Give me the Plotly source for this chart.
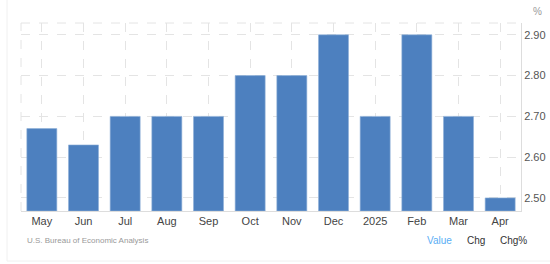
import plotly.graph_objects as go

categories = ["May", "Jun", "Jul", "Aug", "Sep", "Oct", "Nov", "Dec", "2025", "Feb", "Mar", "Apr"]
values = [2.67, 2.63, 2.70, 2.70, 2.70, 2.80, 2.80, 2.90, 2.70, 2.90, 2.70, 2.50]
y_ticks = [2.50, 2.60, 2.70, 2.80, 2.90]
y_tick_labels = ["2.50", "2.60", "2.70", "2.80", "2.90"]

W, H = 550, 264
L, R, T, B = 21, 29, 23, 53
ymin, ymax = 2.468, 2.929

fig = go.Figure()
fig.add_trace(go.Bar(
    x=categories, y=[v - ymin for v in values], base=ymin,
    marker=dict(color="#4d80bf", line=dict(color="#8fb0d9", width=0.6)),
    hoverinfo="skip",
))

font = "Liberation Sans, Arial, sans-serif"
fig.update_layout(
    width=W, height=H,
    margin=dict(l=L, r=R, t=T, b=B, autoexpand=False),
    paper_bgcolor="white", plot_bgcolor="white",
    bargap=0.28, showlegend=False,
    font=dict(family=font, size=11, color="#444"),
    xaxis=dict(
        type="category", showgrid=True, gridcolor="#e4e4e4", griddash="dash", gridwidth=1,
        showline=True, linecolor="#dddddd", linewidth=1, ticks="", automargin=False,
        tickfont=dict(size=11, color="#444"), fixedrange=True,
    ),
    yaxis=dict(
        side="right", range=[ymin, ymax], tickvals=y_ticks, ticktext=y_tick_labels,
        showgrid=True, gridcolor="#e4e4e4", griddash="dash", gridwidth=1, automargin=False,
        zeroline=False, showline=True, linecolor="#dddddd", linewidth=1, mirror=False,
        ticks="", tickfont=dict(size=11, color="#555"), fixedrange=True,
    ),
)

pw = W - L - R
ph = H - T - B
def px(xp):
    return (xp - L) / pw
def py(yp):
    return (H - B - yp) / ph

# top dashed border and left dashed border
fig.add_shape(type="line", xref="paper", yref="paper", x0=0, x1=1, y0=1, y1=1,
              line=dict(color="#e4e4e4", width=1, dash="dash"))
fig.add_shape(type="line", xref="paper", yref="paper", x0=0, x1=0, y0=0, y1=1,
              line=dict(color="#e4e4e4", width=1, dash="dash"))
# card border
fig.add_shape(type="line", xref="paper", yref="paper", x0=px(7), x1=px(7), y0=py(261), y1=py(-5),
              line=dict(color="#f0f0f0", width=1))
fig.add_shape(type="line", xref="paper", yref="paper", x0=px(7), x1=px(560), y0=py(261), y1=py(261),
              line=dict(color="#f0f0f0", width=1))

fig.add_annotation(text="%", xref="paper", yref="paper", x=px(537), y=py(11),
                   showarrow=False, font=dict(size=10, color="#999"), xanchor="center", yanchor="middle")
fig.add_annotation(text="U.S. Bureau of Economic Analysis", xref="paper", yref="paper",
                   x=px(25), y=py(240), showarrow=False, xanchor="left", yanchor="middle",
                   font=dict(size=8, color="#999"))
fig.add_annotation(text="Value", xref="paper", yref="paper", x=px(425), y=py(240), showarrow=False,
                   xanchor="left", yanchor="middle", font=dict(size=10, color="#5aaef5"))
fig.add_annotation(text="Chg", xref="paper", yref="paper", x=px(465), y=py(240), showarrow=False,
                   xanchor="left", yanchor="middle", font=dict(size=10, color="#333"))
fig.add_annotation(text="Chg%", xref="paper", yref="paper", x=px(498), y=py(240), showarrow=False,
                   xanchor="left", yanchor="middle", font=dict(size=10, color="#333"))

fig.write_html("out.html", config={"displayModeBar": False})
